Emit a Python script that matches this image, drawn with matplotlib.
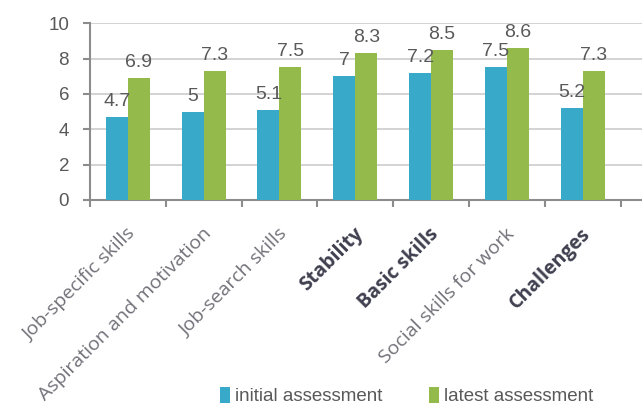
import matplotlib
matplotlib.use("Agg")
import matplotlib.pyplot as plt
import numpy as np

categories = ["Job-specific skills", "Aspiration and motivation", "Job-search skills",
              "Stability", "Basic skills", "Social skills for work", "Challenges"]
bold_cats = ["Stability", "Basic skills", "Challenges"]
initial = [4.7, 5, 5.1, 7, 7.2, 7.5, 5.2]
latest = [6.9, 7.3, 7.5, 8.3, 8.5, 8.6, 7.3]
series_names = ["initial assessment", "latest assessment"]
colors = ["#38A9C9", "#93BA4B"]

fig = plt.figure(figsize=(6.42, 4.07), dpi=100)
ax = fig.add_axes([0.140, 0.509, 0.860, 0.434])

x = np.arange(len(categories))
w = 0.29
b1 = ax.bar(x - w / 2, initial, w, color=colors[0], label=series_names[0], zorder=3)
b2 = ax.bar(x + w / 2, latest, w, color=colors[1], label=series_names[1], zorder=3)

num_font = "Liberation Sans"
for bars, vals in ((b1, initial), (b2, latest)):
    for r, v in zip(bars, vals):
        ax.annotate(f"{v:g}", (r.get_x() + r.get_width() / 2, v),
                    xytext=(0, 5), textcoords="offset points",
                    ha="center", va="bottom", fontsize=14,
                    color="#595959", family=num_font)

ax.set_ylim(0, 10)
ax.set_yticks(range(0, 11, 2))
ax.set_xlim(-0.5, 6.78)
ax.yaxis.grid(True, color="#D0D0D0", linewidth=1.3, zorder=0)
ax.set_axisbelow(True)
for s in ("top", "right"):
    ax.spines[s].set_visible(False)
for s in ("left", "bottom"):
    ax.spines[s].set_color("#8C8C8C")
    ax.spines[s].set_linewidth(1.5)

ax.tick_params(axis="y", labelsize=13.5, labelcolor="#595959", color="#8C8C8C",
               length=5, width=1.5, pad=10)
for t in ax.get_yticklabels():
    t.set_family(num_font)

# category boundary ticks
ax.set_xticks(np.arange(len(categories) + 1) - 0.5)
ax.set_xticklabels([])
ax.tick_params(axis="x", color="#8C8C8C", length=5, width=1.5)

for i, c in enumerate(categories):
    bold = c in bold_cats
    ax.text(i + 0.065, -1.77, c, rotation=45, rotation_mode="anchor",
            ha="right", va="center", fontsize=14, family="Open Sans",
            fontweight="bold" if bold else "normal",
            color="#3F3F4F" if bold else "#707078",
            transform=ax.transData, clip_on=False)

fig.legend(handles=[b1, b2], labels=series_names, loc="center",
           bbox_to_anchor=(0.633, 0.027), ncol=2, frameon=False,
           handlelength=0.55, handleheight=1.0, handletextpad=0.25,
           columnspacing=2.5, prop={"family": num_font, "size": 13.5},
           labelcolor="#595959")

fig.savefig("out.png", dpi=100)
